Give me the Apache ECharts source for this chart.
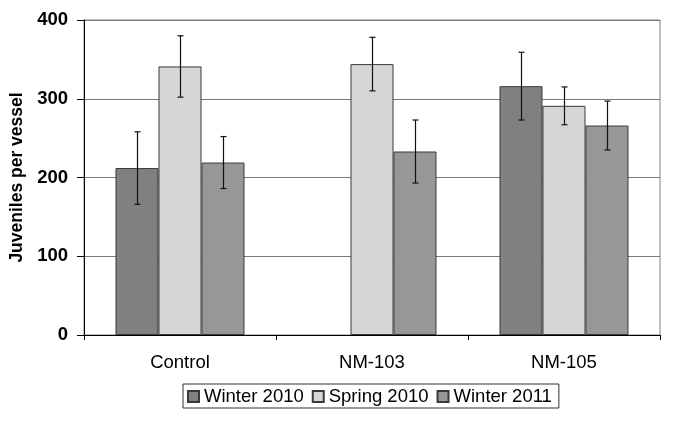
<!DOCTYPE html>
<html>
<head>
<meta charset="utf-8">
<script src="https://cdn.jsdelivr.net/npm/echarts@6/dist/echarts.min.js"></script>
<style>html,body{margin:0;padding:0;background:#fff}#c{width:685px;height:426px}</style>
</head>
<body>
<div id="c"></div>
<script>
const categories = ['Control', 'NM-103', 'NM-105'];
const seriesNames = ['Winter 2010', 'Spring 2010', 'Winter 2011'];
const winter2010 = [212, null, 316];
const spring2010 = [341, 344, 291];
const winter2011 = [219, 233, 266];
const winter2010Err = [46, null, 43];
const spring2010Err = [39, 34, 24];
const winter2011Err = [33, 40, 31];
const yTicks = [0, 100, 200, 300, 400];

const values = [winter2010, spring2010, winter2011];
const errors = [winter2010Err, spring2010Err, winter2011Err];
const colors = ['#808080', '#d6d6d6', '#979797'];
const BAR_FRAC = 0.224;
const FONT = 'Liberation Sans, Arial, sans-serif';

const chart = echarts.init(document.getElementById('c'));

const barSeries = values.map((vals, i) => ({
  name: seriesNames[i],
  type: 'bar',
  data: vals.map(v => v === null ? '-' : v),
  barWidth: (BAR_FRAC * 100) + '%',
  barGap: '0%',
  itemStyle: { color: colors[i], borderColor: '#3a3a3a', borderWidth: 1 },
  emphasis: { disabled: true },
  silent: true,
  z: 2
}));

const errSeries = values.map((vals, i) => ({
  type: 'custom',
  name: 'err' + i,
  silent: true,
  z: 5,
  encode: { x: 0, y: 1 },
  data: vals.map((v, k) => v === null ? null : [k, v, errors[i][k]]).filter(d => d !== null),
  renderItem: function (params, api) {
    const xi = api.value(0), v = api.value(1), e = api.value(2);
    const band = api.size([1, 0])[0];
    const off = (i - 1) * BAR_FRAC * band;
    const top = api.coord([xi, v + e]);
    const bot = api.coord([xi, v - e]);
    const x = Math.round(top[0] + off) + 0.5;
    const cap = 3;
    const st = { stroke: '#111', lineWidth: 1.2 };
    return {
      type: 'group',
      children: [
        { type: 'line', shape: { x1: x, y1: top[1], x2: x, y2: bot[1] }, style: st },
        { type: 'line', shape: { x1: x - cap, y1: top[1], x2: x + cap, y2: top[1] }, style: st },
        { type: 'line', shape: { x1: x - cap, y1: bot[1], x2: x + cap, y2: bot[1] }, style: st }
      ]
    };
  }
}));

chart.setOption({
  animation: false,
  backgroundColor: '#fff',
  grid: { left: 84, right: 25, top: 20, bottom: 91, show: true, borderColor: '#808080', borderWidth: 1, backgroundColor: 'transparent' },
  legend: {
    data: seriesNames,
    left: 183,
    top: 384,
    padding: [3, 7, 2, 4],
    itemGap: 8,
    itemWidth: 11,
    itemHeight: 11,
    borderColor: '#333',
    borderWidth: 1,
    icon: 'rect',
    textStyle: { fontFamily: FONT, fontSize: 18.5, color: '#000' },
    selectedMode: false
  },
  xAxis: {
    type: 'category',
    data: categories,
    axisLine: { lineStyle: { color: '#000', width: 1 } },
    axisTick: { show: true, length: 5, lineStyle: { color: '#000' } },
    axisLabel: { fontFamily: FONT, fontSize: 18.5, color: '#000', margin: 18 },
    splitLine: { show: false }
  },
  yAxis: {
    type: 'value',
    min: 0,
    max: 400,
    interval: 100,
    name: 'Juveniles per vessel',
    nameLocation: 'middle',
    nameGap: 55,
    nameTextStyle: { fontFamily: FONT, fontSize: 17.5, fontWeight: 'bold', color: '#000' },
    axisLine: { show: true, lineStyle: { color: '#000', width: 1 } },
    axisTick: { show: true, length: 7, lineStyle: { color: '#000' } },
    axisLabel: { fontFamily: FONT, fontSize: 18.5, fontWeight: 'bold', color: '#000', margin: 16,
      formatter: v => yTicks.includes(v) ? String(v) : '' },
    splitLine: { show: true, lineStyle: { color: '#7a7a7a', width: 1 } }
  },
  series: barSeries.concat(errSeries)
});
</script>
</body>
</html>
